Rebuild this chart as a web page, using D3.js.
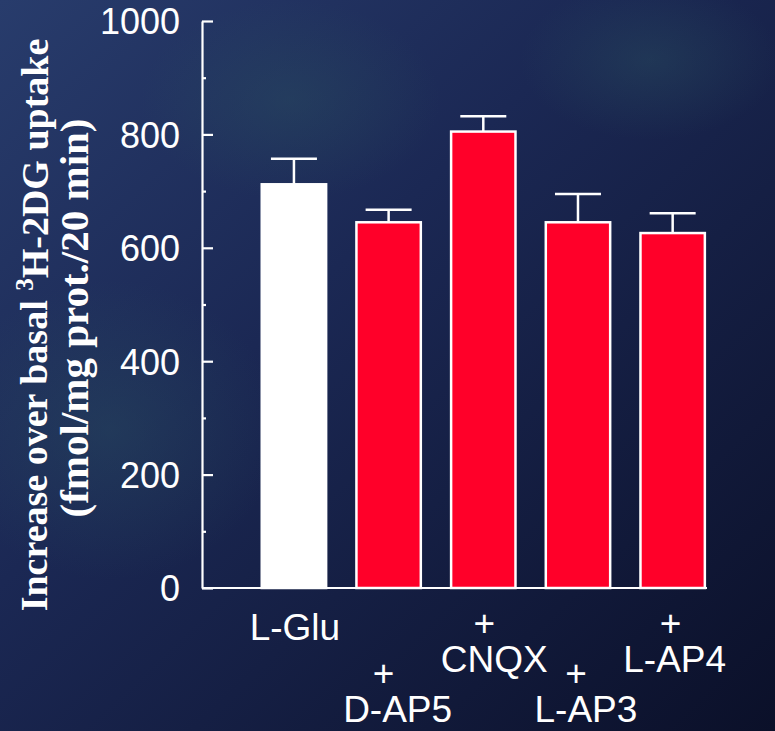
<!DOCTYPE html>
<html>
<head>
<meta charset="utf-8">
<script src="https://cdn.jsdelivr.net/npm/d3@7"></script>
<style>
  body { margin: 0; background: #141c3a; }
  svg { display: block; }
</style>
</head>
<body>
<div id="chart"></div>
<script>
// values
const categories = ["L-Glu", "D-AP5", "CNQX", "L-AP3", "L-AP4"];
const means = [712, 645, 805, 645, 626];
const errors = [45, 22, 27, 50, 35];
const prefixes = ["", "+", "+", "+", "+"];
const yTicks = [0, 200, 400, 600, 800, 1000];
const yMinorTicks = [100, 300, 500, 700, 900];

const width = 775, height = 731;

const svg = d3.select("#chart").append("svg")
    .attr("width", width)
    .attr("height", height);

// background, dark blue slide
const defs = svg.append("defs");
const lin = defs.append("linearGradient").attr("id", "bg")
    .attr("x1", "0").attr("y1", "0").attr("x2", "1").attr("y2", "1");
lin.append("stop").attr("offset", "0%").attr("stop-color", "#283c6c");
lin.append("stop").attr("offset", "40%").attr("stop-color", "#1b2854");
lin.append("stop").attr("offset", "100%").attr("stop-color", "#0b1029");

const glow = defs.append("radialGradient").attr("id", "glow");
glow.append("stop").attr("offset", "0%").attr("stop-color", "#2a5060").attr("stop-opacity", 0.4);
glow.append("stop").attr("offset", "100%").attr("stop-color", "#2a5060").attr("stop-opacity", 0);

svg.append("rect").attr("width", width).attr("height", height).attr("fill", "url(#bg)");
svg.append("ellipse").attr("cx", 110).attr("cy", 430).attr("rx", 170).attr("ry", 150).attr("fill", "url(#glow)");
svg.append("ellipse").attr("cx", 290).attr("cy", 100).attr("rx", 150).attr("ry", 100).attr("fill", "url(#glow)");
svg.append("ellipse").attr("cx", 650).attr("cy", 60).attr("rx", 130).attr("ry", 80).attr("fill", "url(#glow)");

// scales
const y = d3.scaleLinear().domain([0, 1000]).range([588, 21]);
const x = d3.scaleBand()
    .domain(categories)
    .range([246.6, 720])
    .paddingInner(0.32)
    .paddingOuter(0.16);

const axisX0 = 202, axisX1 = 707;

// bars
svg.append("g").selectAll("rect")
  .data(categories)
  .join("rect")
    .attr("x", d => x(d))
    .attr("y", (d, i) => y(means[i]))
    .attr("width", x.bandwidth())
    .attr("height", (d, i) => y(0) - y(means[i]))
    .attr("fill", (d, i) => i === 0 ? "#ffffff" : "#ff0029")
    .attr("stroke", "#ffffff")
    .attr("stroke-width", 2.5);

// error bars (upper only)
const capW = 46;
const err = svg.append("g").attr("stroke", "#ffffff").attr("stroke-width", 2.5);
categories.forEach((c, i) => {
    const cx = x(c) + x.bandwidth() / 2;
    err.append("line")
        .attr("x1", cx).attr("x2", cx)
        .attr("y1", y(means[i])).attr("y2", y(means[i] + errors[i]));
    err.append("line")
        .attr("x1", cx - capW / 2).attr("x2", cx + capW / 2)
        .attr("y1", y(means[i] + errors[i])).attr("y2", y(means[i] + errors[i]));
});

// y axis, ticks pointing inward
const yAxis = svg.append("g")
    .attr("transform", `translate(${axisX0},0)`)
    .call(d3.axisLeft(y).tickValues(yTicks).tickFormat(d3.format("d"))
        .tickSize(-11).tickSizeOuter(0).tickPadding(22));
svg.append("g")
    .attr("transform", `translate(${axisX0},0)`)
    .call(d3.axisLeft(y).tickValues(yMinorTicks).tickSize(-4).tickFormat(""))
    .call(g => g.select(".domain").remove());

svg.selectAll(".tick line, .domain").attr("stroke", "#ffffff").attr("stroke-width", 2.2);
yAxis.selectAll(".tick text")
    .attr("fill", "#ffffff")
    .attr("font-family", "Liberation Sans, Arial, sans-serif")
    .attr("font-size", 36)
    .attr("dy", "0.36em");

// x baseline
svg.append("line")
    .attr("x1", axisX0).attr("x2", axisX1)
    .attr("y1", y(0)).attr("y2", y(0))
    .attr("stroke", "#ffffff").attr("stroke-width", 2.2);

// category labels, staggered in two rows
const labelDx = [1, 9, 11, 8, 2];
const plusDx = [0, -5, 1, -2, -2];
const labels = svg.append("g")
    .attr("fill", "#ffffff")
    .attr("font-family", "Liberation Sans, Arial, sans-serif")
    .attr("font-size", 37)
    .attr("text-anchor", "middle");
categories.forEach((c, i) => {
    const cx = x(c) + x.bandwidth() / 2;
    const row = i % 2;
    const base = i === 0 ? 640 : (row === 0 ? 672 : 722);
    labels.append("text")
        .attr("x", cx + labelDx[i]).attr("y", base)
        .text(c);
    if (prefixes[i]) {
        labels.append("text")
            .attr("x", cx + plusDx[i]).attr("y", base - 36)
            .text(prefixes[i]);
    }
});

// y axis title, two lines rotated
const title = svg.append("g")
    .attr("fill", "#ffffff")
    .attr("font-family", "Liberation Serif, Times New Roman, serif")
    .attr("font-weight", "bold")
    .attr("text-anchor", "middle");
const t1 = title.append("text")
    .attr("font-size", 38)
    .attr("transform", "translate(47,325) rotate(-90)");
t1.append("tspan").text("Increase over basal ");
t1.append("tspan").attr("font-size", 25).attr("dy", "-0.55em").text("3");
t1.append("tspan").attr("dy", "0.38em").text("H-2DG uptake");
title.append("text")
    .attr("font-size", 41)
    .attr("transform", "translate(88,318) rotate(-90)")
    .text("(fmol/mg prot./20 min)");
</script>
</body>
</html>
